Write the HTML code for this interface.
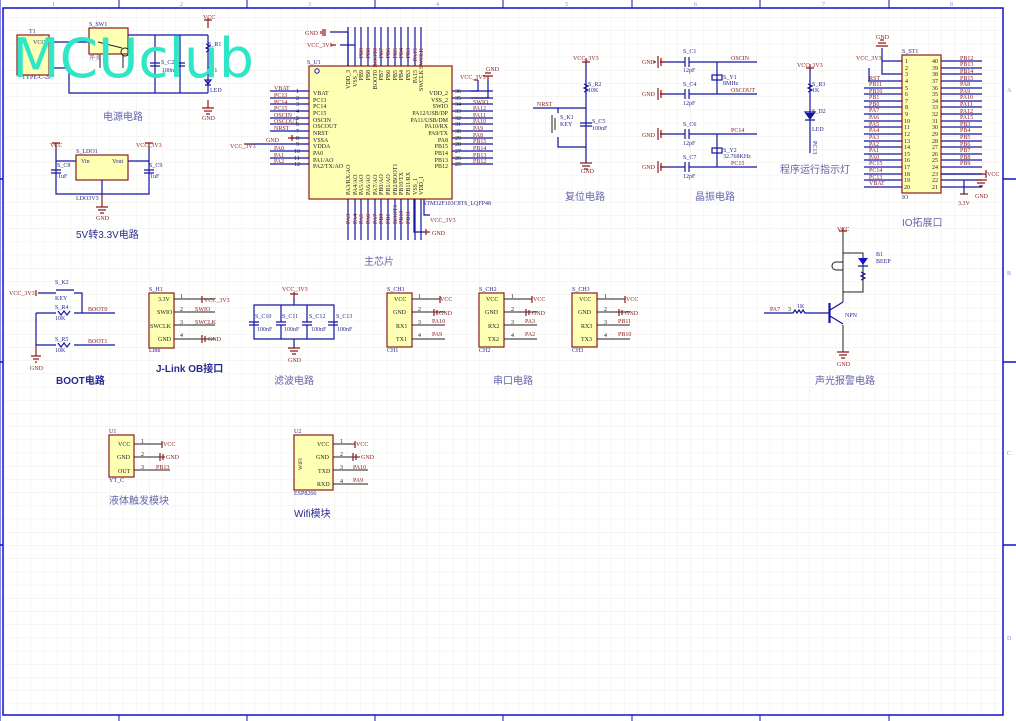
<!DOCTYPE html>
<html><head><meta charset="utf-8">
<style>
html,body{margin:0;padding:0;background:#fff;width:1016px;height:721px;overflow:hidden}
svg{display:block}
.w{stroke:#1414a0;stroke-width:1.2;fill:none}
.k{stroke:#222;stroke-width:1;fill:none}
.rd{stroke:#8b1a1a;stroke-width:1.2;fill:none}
.bx{fill:#ffffb4;stroke:#8b1a1a;stroke-width:1.2}
text{font-family:"Liberation Serif","Noto Serif CJK SC",serif;font-size:6px}
.r{fill:#8b1a1a}
.t{fill:#2a2a90}
.n{fill:#222}
.h{fill:#6464aa;font-size:10px;font-family:"Liberation Sans","Noto Sans CJK SC",sans-serif}
.hb{fill:#2a2a90;font-size:10px;font-weight:bold;font-family:"Liberation Sans","Noto Sans CJK SC",sans-serif}
</style></head><body>
<svg width="1016" height="721" viewBox="0 0 1016 721" xmlns="http://www.w3.org/2000/svg">
<defs>
<pattern id="g" x="4" y="4" width="13.2" height="13.2" patternUnits="userSpaceOnUse">
<path d="M0 0H13.2M0 0V13.2" stroke="#eeede6" stroke-width="1" fill="none"/>
</pattern>
</defs>
<rect x="3" y="8" width="1000" height="707" fill="url(#g)"/>
<!-- frame -->
<g stroke="#1010c8" stroke-width="1.5" fill="none">
<rect x="3" y="8" width="1000" height="707"/>
<line x1="0" y1="0" x2="0" y2="721" stroke-width="1"/>
<line x1="1003" y1="179" x2="1016" y2="179"/><line x1="1003" y1="362" x2="1016" y2="362"/><line x1="1003" y1="545" x2="1016" y2="545"/>
<line x1="0" y1="179" x2="3" y2="179"/><line x1="0" y1="362" x2="3" y2="362"/><line x1="0" y1="545" x2="3" y2="545"/>
<g stroke-width="1">
<line x1="119" y1="0" x2="119" y2="8"/><line x1="247" y1="0" x2="247" y2="8"/><line x1="375" y1="0" x2="375" y2="8"/><line x1="503" y1="0" x2="503" y2="8"/><line x1="632" y1="0" x2="632" y2="8"/><line x1="760" y1="0" x2="760" y2="8"/><line x1="889" y1="0" x2="889" y2="8"/>
<line x1="119" y1="715" x2="119" y2="721"/><line x1="247" y1="715" x2="247" y2="721"/><line x1="375" y1="715" x2="375" y2="721"/><line x1="503" y1="715" x2="503" y2="721"/><line x1="632" y1="715" x2="632" y2="721"/><line x1="760" y1="715" x2="760" y2="721"/><line x1="889" y1="715" x2="889" y2="721"/>
</g></g>
<g fill="#8888dd" style="font-size:5px">
<text x="52" y="6">1</text><text x="180" y="6">2</text><text x="308" y="6">3</text><text x="436" y="6">4</text><text x="565" y="6">5</text><text x="694" y="6">6</text><text x="822" y="6">7</text><text x="950" y="6">8</text>
<text x="1007" y="92">A</text><text x="1007" y="275">B</text><text x="1007" y="455">C</text><text x="1007" y="640">D</text>
</g>

<!-- ===== Power circuit ===== -->
<rect class="bx" x="17" y="35" width="32" height="40"/>
<rect class="bx" x="89" y="28" width="39" height="26"/>
<path class="w" d="M49 42H89 M128 35H208 M49 68H69V93H208 M155 35V93 M180 35V93 M208 35V93"/>
<path class="k" d="M98 42L122 48 M125 48a4 4 0 1 0 0.1 0 M100 55V68 M123 55V68"/>
<path class="w" d="M150 63H160M150 66H160M175 63H185M175 66H185"/>
<path class="rd" d="M208 18V28M204 20H212"/>
<path class="w" d="M205 80L208 84L211 80Z M205 85H211" fill="#1414a0"/>
<path class="w" d="M206 44l4 2-4 2 4 2-4 2"/>
<path class="rd" d="M202 108H214M204 111H212M206 114H210M208 100V108"/>
<text class="r" x="203" y="19">VCC</text><text class="r" x="202" y="120">GND</text>
<text class="t" x="208" y="46">S_R1</text><text class="t" x="210" y="72">D1</text><text class="t" x="210" y="92">LED</text>
<text class="t" x="89" y="26">S_SW1</text><text class="t" x="89" y="60">开关</text>
<text class="t" x="29" y="33">T1</text><text class="t" x="33" y="44">VCC</text><text class="t" x="22" y="79">TYPE-C-2P</text>
<text class="t" x="161" y="64">S_C2</text><text class="t" x="162" y="72">100nF</text>
<text class="h" x="103" y="120">电源电路</text>
<text x="12" y="77" style="font-family:'DejaVu Sans',sans-serif;font-size:54px;fill:#2fe6c6" textLength="242" lengthAdjust="spacingAndGlyphs">MCUclub</text>

<!-- ===== LDO ===== -->
<rect class="bx" x="76" y="155" width="52" height="25"/>
<path class="w" d="M56 149V194H149V149 M56 161H76 M128 161H149 M102 180V194"/>
<path class="w" d="M51 170H61M51 173H61M144 170H154M144 173H154"/>
<path class="rd" d="M56 143V150M52 143H60M149 143V150M145 143H153 M102 194V207M96 207H108M98 210H106M100 213H104"/>
<text class="r" x="50" y="147">VCC</text><text class="r" x="136" y="147">VCC_3V3</text><text class="r" x="96" y="220">GND</text>
<text class="t" x="76" y="153">S_LDO1</text><text class="t" x="81" y="163">Vin</text><text class="t" x="112" y="163">Vout</text>
<text class="t" x="76" y="200">LDO3V3</text><text class="t" x="57" y="167">S_C8</text><text class="t" x="149" y="167">S_C9</text>
<text class="t" x="58" y="178">1uF</text><text class="t" x="150" y="178">1uF</text>
<text class="hb" x="76" y="238" style="font-weight:normal">5V转3.3V电路</text>

<!-- ===== Main chip ===== -->
<rect class="bx" x="309" y="66" width="143" height="133"/>
<g class="w">
<path d="M270 91H309M270 98H309M270 104H309M270 111H309M270 118H309M270 124H309M270 131H309M290 138H309M250 144H309M270 151H309M270 158H309M270 164H309"/>
<path d="M452 91H493M452 98H493M452 104H493M452 111H493M452 118H493M452 124H493M452 131H493M452 138H493M452 144H493M452 151H493M452 158H493M452 164H493"/>
<path d="M348 27V66M355 27V66M361 27V66M368 27V66M375 27V66M381 27V66M388 27V66M395 27V66M401 27V66M408 27V66M415 27V66M421 27V66"/>
<path d="M348 199V240M355 199V240M361 199V240M368 199V240M375 199V240M381 199V240M388 199V240M395 199V240M401 199V240M408 199V240M415 199V240M421 199V240"/>
<path d="M330 32H348V66 M340 45H355 M471 91H478V80 M471 98H488V80 M424 199V215H430 M414 199V232H424"/>
</g>
<path class="rd" d="M323 29V36M321 31V34M325 29V36 M330 45H336 M488 80V76M483 76H493M485 73H491 M478 80H474 M424 232H430M426 229V235 M288 138H294M292 135V141 M250 144H244"/>
<g class="r">
<text x="305" y="35">GND</text><text x="307" y="47">VCC_3V3</text><text x="486" y="71">GND</text><text x="460" y="79">VCC_3V3</text>
<text x="274" y="90">VBAT</text><text x="274" y="97">PC13</text><text x="274" y="104">PC14</text><text x="274" y="110">PC15</text><text x="274" y="117">OSCIN</text><text x="274" y="123">OSCOUT</text><text x="274" y="130">NRST</text><text x="266" y="142">GND</text><text x="230" y="148">VCC_3V3</text><text x="274" y="150">PA0</text><text x="274" y="157">PA1</text><text x="274" y="163">PA2</text>
<text x="473" y="104">SWIO</text><text x="473" y="110">PA12</text><text x="473" y="117">PA11</text><text x="473" y="123">PA10</text><text x="473" y="130">PA9</text><text x="473" y="137">PA8</text><text x="473" y="143">PB15</text><text x="473" y="150">PB14</text><text x="473" y="157">PB13</text><text x="473" y="163">PB12</text>
<text x="430" y="222">VCC_3V3</text><text x="432" y="235">GND</text>
</g>
<g class="n" style="font-size:5.5px">
<text x="296" y="93">1</text><text x="296" y="100">2</text><text x="296" y="106">3</text><text x="296" y="113">4</text><text x="296" y="120">5</text><text x="296" y="126">6</text><text x="296" y="133">7</text><text x="296" y="140">8</text><text x="296" y="146">9</text><text x="294" y="153">10</text><text x="294" y="160">11</text><text x="294" y="166">12</text>
<text x="455" y="93">36</text><text x="455" y="100">35</text><text x="455" y="106">34</text><text x="455" y="113">33</text><text x="455" y="120">32</text><text x="455" y="126">31</text><text x="455" y="133">30</text><text x="455" y="140">29</text><text x="455" y="146">28</text><text x="455" y="153">27</text><text x="455" y="160">26</text><text x="455" y="166">25</text>
</g>
<g class="n" style="font-size:6px">
<text x="313" y="95">VBAT</text><text x="313" y="102">PC13</text><text x="313" y="108">PC14</text><text x="313" y="115">PC15</text><text x="313" y="122">OSCIN</text><text x="313" y="128">OSCOUT</text><text x="313" y="135">NRST</text><text x="313" y="142">VSSA</text><text x="313" y="148">VDDA</text><text x="313" y="155">PA0</text><text x="313" y="162">PA1/AO</text><text x="313" y="168">PA2/TX/AO</text>
<g text-anchor="end"><text x="448" y="95">VDD_2</text><text x="448" y="102">VSS_2</text><text x="448" y="108">SWIO</text><text x="448" y="115">PA12/USB/DP</text><text x="448" y="122">PA11/USB/DM</text><text x="448" y="128">PA10/RX</text><text x="448" y="135">PA9/TX</text><text x="448" y="142">PA8</text><text x="448" y="148">PB15</text><text x="448" y="155">PB14</text><text x="448" y="162">PB13</text><text x="448" y="168">PB12</text></g>
</g>
<g class="n" style="font-size:5.5px">
<g text-anchor="end">
<text transform="translate(350,70) rotate(-90)">VDD_3</text><text transform="translate(357,70) rotate(-90)">VSS_3</text><text transform="translate(363,70) rotate(-90)">PB9</text><text transform="translate(370,70) rotate(-90)">PB8</text><text transform="translate(377,70) rotate(-90)">BOOT0</text><text transform="translate(383,70) rotate(-90)">PB7</text><text transform="translate(390,70) rotate(-90)">PB6</text><text transform="translate(397,70) rotate(-90)">PB5</text><text transform="translate(403,70) rotate(-90)">PB4</text><text transform="translate(410,70) rotate(-90)">PB3</text><text transform="translate(417,70) rotate(-90)">PA15</text><text transform="translate(423,70) rotate(-90)">SWCLK</text>
</g>
<text transform="translate(350,195) rotate(-90)">PA3/RX/AO</text><text transform="translate(357,195) rotate(-90)">PA4/AO</text><text transform="translate(363,195) rotate(-90)">PA5/AO</text><text transform="translate(370,195) rotate(-90)">PA6/AO</text><text transform="translate(377,195) rotate(-90)">PA7/AO</text><text transform="translate(383,195) rotate(-90)">PB0/AO</text><text transform="translate(390,195) rotate(-90)">PB1/AO</text><text transform="translate(397,195) rotate(-90)">PB2/BOOT1</text><text transform="translate(403,195) rotate(-90)">PB10/TX</text><text transform="translate(410,195) rotate(-90)">PB11/RX</text><text transform="translate(417,195) rotate(-90)">VSS_1</text><text transform="translate(423,195) rotate(-90)">VDD_1</text>
</g>
<g class="r" style="font-size:5.5px" text-anchor="end">
<text transform="translate(363,48) rotate(-90)">PB9</text><text transform="translate(370,48) rotate(-90)">PB8</text><text transform="translate(377,48) rotate(-90)">BOOT0</text><text transform="translate(383,48) rotate(-90)">PB7</text><text transform="translate(390,48) rotate(-90)">PB6</text><text transform="translate(397,48) rotate(-90)">PB5</text><text transform="translate(403,48) rotate(-90)">PB4</text><text transform="translate(410,48) rotate(-90)">PB3</text><text transform="translate(417,48) rotate(-90)">PA15</text><text transform="translate(423,48) rotate(-90)">SWCLK</text>
</g>
<g class="r" style="font-size:5.5px">
<text transform="translate(350,224) rotate(-90)">PA3</text><text transform="translate(357,224) rotate(-90)">PA4</text><text transform="translate(363,224) rotate(-90)">PA5</text><text transform="translate(370,224) rotate(-90)">PA6</text><text transform="translate(377,224) rotate(-90)">PA7</text><text transform="translate(383,224) rotate(-90)">PB0</text><text transform="translate(390,224) rotate(-90)">PB1</text><text transform="translate(397,224) rotate(-90)">BOOT1</text><text transform="translate(403,224) rotate(-90)">PB10</text><text transform="translate(410,224) rotate(-90)">PB11</text>
</g>
<text class="t" x="307" y="64">S_U1</text><circle cx="317" cy="71" r="2.2" fill="none" stroke="#1414d0"/>
<text class="t" x="423" y="205">STM32F103C8T6_LQFP48</text>
<text class="h" x="364" y="265">主芯片</text>

<!-- ===== Reset ===== -->
<path class="w" d="M586 62V163 M533 108H586 M558 108V113 M558 137V147H586"/>
<path class="k" d="M552 115V133 M555 118V130"/>
<path class="w" d="M580 123H592M580 126H592 M584 84l4 2-4 2 4 2-4 2"/>
<path class="rd" d="M586 58V66M582 62H590 M580 163H592M582 166H590M584 169H588"/>
<text class="r" x="573" y="60">VCC_3V3</text><text class="r" x="537" y="106">NRST</text><text class="r" x="581" y="173">GND</text>
<text class="t" x="588" y="86">S_R2</text><text class="t" x="588" y="92">10K</text><text class="t" x="560" y="119">S_K1</text><text class="t" x="560" y="126">KEY</text><text class="t" x="592" y="123">S_C5</text><text class="t" x="592" y="130">100nF</text>
<text class="h" x="565" y="200">复位电路</text>

<!-- ===== Crystal ===== -->
<g class="w"><path d="M660 62H685M689 62H757M660 94H685M689 94H757M660 134H685M689 134H757M660 167H685M689 167H757 M717 62V94 M717 134V167"/>
<path d="M685 57V67M689 57V67M685 89V99M689 89V99M685 129V139M689 129V139M685 162V172M689 162V172"/><rect x="712" y="75" width="10" height="5"/><rect x="712" y="148" width="10" height="5"/></g>
<path class="rd" d="M660 62H665M658 56V68M661 58V66M656 62H653 M660 94H665M658 88V100M661 90V98 M660 134H665M658 128V140M661 130V138 M660 167H665M658 161V173M661 163V171"/>
<g class="r"><text x="642" y="64">GND</text><text x="642" y="96">GND</text><text x="642" y="137">GND</text><text x="642" y="169">GND</text>
<text x="731" y="60">OSCIN</text><text x="731" y="92">OSCOUT</text><text x="731" y="132">PC14</text><text x="731" y="165">PC15</text></g>
<g class="t"><text x="683" y="53">S_C1</text><text x="683" y="72">12pF</text><text x="683" y="86">S_C4</text><text x="683" y="105">12pF</text><text x="683" y="126">S_C6</text><text x="683" y="145">12pF</text><text x="683" y="159">S_C7</text><text x="683" y="178">12pF</text>
<text x="723" y="79">S_Y1</text><text x="723" y="85">8MHz</text><text x="723" y="152">S_Y2</text><text x="723" y="158">32.768KHz</text></g>
<text class="h" x="695" y="200">晶振电路</text>

<!-- ===== LED indicator ===== -->
<path class="w" d="M810 68V153 M805 112H815L810 119Z M805 120H815 M808 84l4 2-4 2 4 2-4 2" fill="none"/>
<path d="M805 113H815L810 119Z" fill="#1414a0"/>
<path class="rd" d="M810 64V69M806 68H814"/>
<text class="r" x="797" y="67">VCC_3V3</text>
<text class="t" x="812" y="86">S_R3</text><text class="t" x="812" y="92">1K</text><text class="t" x="812" y="113">S_D2</text><text class="t" x="812" y="131">LED</text>
<text class="t" transform="translate(813,141) rotate(90)">PC13</text>
<text class="h" x="780" y="173">程序运行指示灯</text>

<!-- ===== IO connector ===== -->
<rect class="bx" x="902" y="55" width="39" height="138"/>
<g class="w">
<path d="M868 81H902M864 88H902M864 94H902M864 101H902M864 107H902M864 114H902M864 121H902M864 127H902M864 134H902M864 141H902M864 147H902M864 154H902M864 160H902M864 167H902M864 174H902M864 180H902M864 187H902 M869 68V81 M882 48V74H902 M882 61H902"/>
<path d="M941 61H982M941 68H982M941 74H982M941 81H982M941 88H982M941 94H982M941 101H982M941 107H982M941 114H982M941 121H982M941 127H982M941 134H982M941 141H982M941 147H982M941 154H982M941 160H982M941 167H982M941 174H982M941 180H982M941 187H982"/>
<path d="M941 174H982 M964 180V194"/>
</g>
<path class="rd" d="M876 46H888M878 43H886M880 40H884 M982 174H986M986 170V178 M975 180H987M977 183H985M979 186H983 M960 194H968"/>
<g class="r"><text x="876" y="39">GND</text><text x="856" y="60">VCC_3V3</text><text x="987" y="176">VCC</text><text x="975" y="198">GND</text><text x="958" y="205">3.3V</text>
<text x="869" y="80">RST</text><text x="869" y="86">PB11</text><text x="869" y="93">PB10</text><text x="869" y="99">PB1</text><text x="869" y="106">PB0</text><text x="869" y="112">PA7</text><text x="869" y="119">PA6</text><text x="869" y="126">PA5</text><text x="869" y="132">PA4</text><text x="869" y="139">PA3</text><text x="869" y="146">PA2</text><text x="869" y="152">PA1</text><text x="869" y="159">PA0</text><text x="869" y="165">PC15</text><text x="869" y="172">PC14</text><text x="869" y="179">PC13</text><text x="869" y="185">VBAT</text>
<text x="960" y="60">PB12</text><text x="960" y="66">PB13</text><text x="960" y="73">PB14</text><text x="960" y="80">PB15</text><text x="960" y="86">PA8</text><text x="960" y="93">PA9</text><text x="960" y="99">PA10</text><text x="960" y="106">PA11</text><text x="960" y="113">PA12</text><text x="960" y="119">PA15</text><text x="960" y="126">PB3</text><text x="960" y="132">PB4</text><text x="960" y="139">PB5</text><text x="960" y="146">PB6</text><text x="960" y="152">PB7</text><text x="960" y="159">PB8</text><text x="960" y="165">PB9</text></g>
<g class="n" style="font-size:5.5px">
<text x="905" y="63">1</text><text x="905" y="70">2</text><text x="905" y="76">3</text><text x="905" y="83">4</text><text x="905" y="90">5</text><text x="905" y="96">6</text><text x="905" y="103">7</text><text x="905" y="109">8</text><text x="905" y="116">9</text><text x="904" y="123">10</text><text x="904" y="129">11</text><text x="904" y="136">12</text><text x="904" y="143">13</text><text x="904" y="149">14</text><text x="904" y="156">15</text><text x="904" y="162">16</text><text x="904" y="169">17</text><text x="904" y="176">18</text><text x="904" y="182">19</text><text x="904" y="189">20</text>
<text x="932" y="63">40</text><text x="932" y="70">39</text><text x="932" y="76">38</text><text x="932" y="83">37</text><text x="932" y="90">36</text><text x="932" y="96">35</text><text x="932" y="103">34</text><text x="932" y="109">33</text><text x="932" y="116">32</text><text x="932" y="123">31</text><text x="932" y="129">30</text><text x="932" y="136">29</text><text x="932" y="143">28</text><text x="932" y="149">27</text><text x="932" y="156">26</text><text x="932" y="162">25</text><text x="932" y="169">24</text><text x="932" y="176">23</text><text x="932" y="182">22</text><text x="932" y="189">21</text>
</g>
<text class="t" x="902" y="53">S_ST1</text><text class="t" x="902" y="199">IO</text>
<text class="h" x="902" y="226">IO拓展口</text>

<!-- ===== BOOT ===== -->
<path class="w" d="M38 293H56 M74 293H82V313H115 M36 313H56V313 M36 313V345 M36 345H56 M74 345H115 M74 313H82 M56 290H74"/>
<path class="w" d="M58 311l3 4 3-4 3 4 3-4 M58 343l3 4 3-4 3 4 3-4"/>
<path class="rd" d="M36 290V296 M31 356H41M33 359H39M35 362H37 M36 345V356"/>
<text class="r" x="9" y="295">VCC_3V3</text><text class="r" x="88" y="311">BOOT0</text><text class="r" x="88" y="343">BOOT1</text><text class="r" x="30" y="370">GND</text>
<text class="t" x="55" y="284">S_K2</text><text class="t" x="55" y="300">KEY</text><text class="t" x="55" y="309">S_R4</text><text class="t" x="55" y="320">10K</text><text class="t" x="55" y="341">S_R5</text><text class="t" x="55" y="352">10K</text>
<text class="hb" x="56" y="384">BOOT电路</text>

<!-- ===== J-Link ===== -->
<rect class="bx" x="149" y="293" width="25" height="55"/>
<path class="k" d="M174 299H215M174 312H215M174 325H215M174 339H215"/>
<path class="rd" d="M202 296V303 M202 335V343M205 336V342"/>
<g class="r"><text x="204" y="302">VCC_3V3</text><text x="195" y="311">SWIO</text><text x="195" y="324">SWCLK</text><text x="208" y="341">GND</text></g>
<g class="n" style="font-size:5.5px"><text x="180" y="298">1</text><text x="180" y="311">2</text><text x="180" y="324">3</text><text x="180" y="337">4</text>
<text x="158" y="301">3.3V</text><text x="157" y="314">SWIO</text><text x="150" y="328">SWCLK</text><text x="158" y="341">GND</text></g>
<text class="t" x="149" y="291">S_H1</text><text class="t" x="149" y="352">Link</text>
<text class="hb" x="156" y="372">J-Link OB接口</text>

<!-- ===== Filter ===== -->
<path class="w" d="M254 305H334V339H254Z M294 298V305 M294 339V348 M249 322H259M249 325H259M276 322H286M276 325H286M302 322H312M302 325H312M328 322H338M328 325H338 M254 305V322M254 325V339M281 305V322M281 325V339M307 305V322M307 325V339M334 305V322M334 325V339"/>
<path class="rd" d="M294 292V298M290 294H298 M288 348H300M290 351H298M292 354H296"/>
<text class="r" x="282" y="291">VCC_3V3</text><text class="r" x="288" y="362">GND</text>
<g class="t"><text x="255" y="318">S_C10</text><text x="282" y="318">S_C11</text><text x="309" y="318">S_C12</text><text x="336" y="318">S_C13</text>
<text x="257" y="331">100nF</text><text x="284" y="331">100nF</text><text x="311" y="331">100nF</text><text x="337" y="331">100nF</text></g>
<text class="h" x="274" y="384">滤波电路</text>

<!-- ===== Serial CH1/CH2/CH3 ===== -->
<g>
<rect class="bx" x="387" y="293" width="25" height="54"/>
<path class="k" d="M412 299H440M412 312H445M412 325H445M412 339H445"/>
<path class="rd" d="M440 296V303 M434 309V316M437 310V315"/>
<g class="r"><text x="440" y="301">VCC</text><text x="439" y="315">GND</text><text x="432" y="323">PA10</text><text x="432" y="336">PA9</text></g>
<g class="n" style="font-size:5.5px"><text x="418" y="298">1</text><text x="418" y="311">2</text><text x="418" y="324">3</text><text x="418" y="337">4</text>
<text x="394" y="301">VCC</text><text x="393" y="314">GND</text><text x="396" y="328">RX1</text><text x="396" y="341">TX1</text></g>
<text class="t" x="387" y="291">S_CH1</text><text class="t" x="387" y="352">CH1</text>
</g>
<g>
<rect class="bx" x="479" y="293" width="25" height="54"/>
<path class="k" d="M504 299H532M504 312H537M504 325H537M504 339H537"/>
<path class="rd" d="M532 296V303 M526 309V316M529 310V315"/>
<g class="r"><text x="533" y="301">VCC</text><text x="532" y="315">GND</text><text x="525" y="323">PA3</text><text x="525" y="336">PA2</text></g>
<g class="n" style="font-size:5.5px"><text x="511" y="298">1</text><text x="511" y="311">2</text><text x="511" y="324">3</text><text x="511" y="337">4</text>
<text x="486" y="301">VCC</text><text x="485" y="314">GND</text><text x="488" y="328">RX2</text><text x="488" y="341">TX2</text></g>
<text class="t" x="479" y="291">S_CH2</text><text class="t" x="479" y="352">CH2</text>
</g>
<g>
<rect class="bx" x="572" y="293" width="25" height="54"/>
<path class="k" d="M597 299H625M597 312H630M597 325H630M597 339H630"/>
<path class="rd" d="M625 296V303 M619 309V316M622 310V315"/>
<g class="r"><text x="626" y="301">VCC</text><text x="625" y="315">GND</text><text x="618" y="323">PB11</text><text x="618" y="336">PB10</text></g>
<g class="n" style="font-size:5.5px"><text x="604" y="298">1</text><text x="604" y="311">2</text><text x="604" y="324">3</text><text x="604" y="337">4</text>
<text x="579" y="301">VCC</text><text x="578" y="314">GND</text><text x="581" y="328">RX3</text><text x="581" y="341">TX3</text></g>
<text class="t" x="572" y="291">S_CH3</text><text class="t" x="572" y="352">CH3</text>
</g>
<text class="h" x="493" y="384">串口电路</text>

<!-- ===== Buzzer ===== -->
<path class="k" d="M843 232V302 M843 253H863V292H843 M836 262H843M836 270H843 M843 325V352"/>
<path class="k" d="M836 262a4 4 0 0 0 0 8" fill="none"/>
<path d="M858 258H868L863 265Z" fill="#1414d0"/><path class="w" d="M858 266H868 M861 272l4 2-4 2 4 2-4 2"/>
<path class="w" d="M764 313H793l2-3 2 3 2-3 2 3 2-3 2 3H829 M830 303V323 M830 310L843 302 M830 316L843 324" stroke-width="1.4"/>
<path class="w" d="M829 303V323" stroke-width="3"/>
<path class="rd" d="M843 228V234M839 231H847 M837 352H849M839 355H847M841 358H845"/>
<text class="r" x="837" y="231">VCC</text><text class="r" x="837" y="366">GND</text><text class="r" x="770" y="311">PA7</text><text class="n" x="788" y="311">3</text>
<text class="t" x="797" y="308">1K</text><text class="t" x="845" y="317">NPN</text><text class="t" x="876" y="256">B1</text><text class="t" x="876" y="263">BEEP</text>
<text class="h" x="815" y="384">声光报警电路</text>

<!-- ===== U1 ===== -->
<rect class="bx" x="109" y="435" width="25" height="42"/>
<path class="k" d="M134 444H162M134 457H165M134 470H170"/>
<path class="rd" d="M162 441V448 M160 453V461M163 454V460"/>
<g class="r"><text x="163" y="446">VCC</text><text x="166" y="459">GND</text><text x="156" y="469">PB13</text></g>
<g class="n" style="font-size:5.5px"><text x="141" y="443">1</text><text x="141" y="456">2</text><text x="141" y="469">3</text>
<text x="118" y="446">VCC</text><text x="117" y="459">GND</text><text x="118" y="473">OUT</text></g>
<text class="t" x="109" y="433">U1</text><text class="t" x="109" y="482">YT_C</text>
<text class="h" x="109" y="504">液体触发模块</text>

<!-- ===== U2 ===== -->
<rect class="bx" x="294" y="435" width="39" height="55"/>
<path class="k" d="M333 444H355M333 457H360M333 470H368M333 484H368"/>
<path class="rd" d="M355 441V448 M353 453V461M356 454V460"/>
<g class="r"><text x="356" y="446">VCC</text><text x="361" y="459">GND</text><text x="353" y="469">PA10</text><text x="353" y="482">PA9</text></g>
<g class="n" style="font-size:5.5px"><text x="340" y="443">1</text><text x="340" y="456">2</text><text x="340" y="469">3</text><text x="340" y="483">4</text>
<text x="317" y="446">VCC</text><text x="316" y="459">GND</text><text x="318" y="473">TXD</text><text x="317" y="486">RXD</text></g>
<text class="n" transform="translate(302,470) rotate(-90)" style="font-size:5.5px">WIFI</text>
<text class="t" x="294" y="433">U2</text><text class="t" x="294" y="495">ESP8266</text>
<text class="hb" x="294" y="517" style="font-weight:normal">Wifi模块</text>
</svg>
</body></html>
